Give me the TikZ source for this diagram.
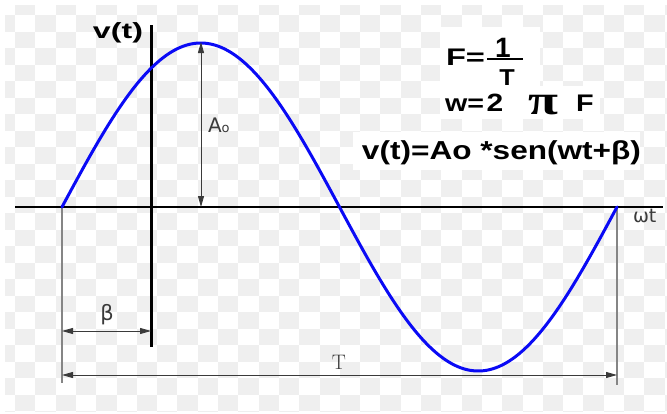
\documentclass[tikz,border=0pt]{standalone}
\usepackage{fontspec}
\usepackage{graphicx}
\usetikzlibrary{arrows.meta}
\newfontfamily\arialf{Liberation Sans}
\newfontfamily\dejaf{DejaVu Sans}
\newfontfamily\timesf{Liberation Serif}
\definecolor{checker}{HTML}{EFEFEF}
\definecolor{sinblue}{HTML}{0A0AF5}
\definecolor{dimgray}{HTML}{3A3A3A}
\definecolor{guidegray}{HTML}{858585}
\newcommand\fitw[2]{\resizebox{#1pt}{\height}{#2}}
\newcommand\sx[2]{\scalebox{#1}[1]{#2}}
\tikzset{
  axisline/.style={line width=2.6pt, black},
  wave/.style={line width=3pt, sinblue, line cap=round},
  guide/.style={line width=1.4pt, guidegray},
  dimarrow/.style={line width=0.9pt, dimgray,
    {Triangle[length=11pt,width=6pt]}-{Triangle[length=11pt,width=6pt]}},
  lbl/.style={inner sep=0pt, outer sep=0pt},
  whitebox/.style={fill=white, draw=none},
}
\begin{document}
\begin{tikzpicture}[x=1pt,y=-1pt]
\useasboundingbox (0,0) rectangle (667,413);
\fill[white] (0,0) rectangle (667,413);
% checkerboard background
\begin{scope}
\clip (5,5) rectangle (667,411);
\foreach \i in {-1,...,32}{
  \foreach \j in {-1,...,24}{
    \pgfmathtruncatemacro{\odd}{mod(\i+\j+100,2)}
    \ifnum\odd=1
      \fill[checker] ({15+20.3*\i},{15+16.52*\j}) rectangle ++(20.3,16.52);
    \fi
  }
}
\end{scope}
% white boxes behind the formulas
\fill[whitebox] (440,27) rectangle (540,86);
\fill[whitebox] (440,86) rectangle (600,119);
\fill[whitebox] (353,132) rectangle (640,170);

% coordinates
\coordinate (xl) at (15,207);
\coordinate (xr) at (663,207);
\coordinate (yt) at (151,25);
\coordinate (yb) at (151,347);
\coordinate (z0) at (62,207);
\coordinate (z1) at (617,207);
\coordinate (g0) at (62,383);
\coordinate (g1) at (617,385);
\coordinate (pk) at (201,42);
\coordinate (pkb) at (201,207);
\coordinate (b0) at (62,331);
\coordinate (b1) at (151,331);
\coordinate (t0) at (62,375);
\coordinate (t1) at (617,375);
\coordinate (bar0) at (487,59);
\coordinate (bar1) at (523,59);

% guides
\draw[guide] (z0) -- (g0);
\draw[guide] (z1) -- (g1);
% axes
\draw[axisline] (xl) -- (xr);
\draw[line width=3pt] (yt) -- (yb);
% wave
\draw[wave] plot[domain=0:555, samples=300] ({62+\x}, {207-164*sin(0.6486486*\x)});
% dimension arrows
\draw[dimarrow] (pk) -- (pkb);
\draw[dimarrow] (b0) -- (b1);
\draw[dimarrow] (t0) -- (t1);
% fraction bar
\draw[line width=2.5pt] (bar0) -- (bar1);

% labels
\node[lbl, anchor=base] (vt) at (118,38) {\arialf\bfseries\fontsize{22}{22}\selectfont\fitw{50}{v(t)}};
\node[lbl, anchor=base west] (Feq) at (446,65) {\arialf\bfseries\fontsize{24}{24}\selectfont\fitw{39}{F=}};
\node[lbl, anchor=base] (one) at (503,57) {\arialf\bfseries\fontsize{28}{28}\selectfont 1};
\node[lbl, anchor=base] (den) at (507,85) {\arialf\bfseries\fontsize{23}{23}\selectfont\sx{1.1}{T}};
\node[lbl, anchor=base west] (w2) at (445,111) {\arialf\bfseries\fontsize{24}{24}\selectfont\fitw{39}{w=}};
\node[lbl, anchor=base] (two) at (495,111) {\arialf\bfseries\fontsize{25}{25}\selectfont\sx{1.2}{2}};
\node[lbl, anchor=base] (pi) at (543,114) {\timesf\bfseries\fontsize{42}{42}\selectfont\sx{1.3}{π}};
\node[lbl, anchor=base] (F2) at (585,111) {\arialf\bfseries\fontsize{24}{24}\selectfont\sx{1.2}{F}};
\node[lbl, anchor=base] (eq) at (501.5,159) {\arialf\bfseries\fontsize{26}{26}\selectfont\fitw{279}{v(t)=Ao *sen(wt+β)}};
\node[lbl, anchor=base west] (Ao) at (208,132) {\dejaf\color{dimgray}\fontsize{20}{20}\selectfont A{\fontsize{13}{13}\selectfont o}};
\node[lbl, anchor=base] (beta) at (107,320) {\dejaf\color{dimgray}\fontsize{21}{21}\selectfont β};
\node[lbl, anchor=base] (Tl) at (339,369) {\color{dimgray}\fontsize{21}{21}\selectfont T};
\node[lbl, anchor=base west] (wt) at (633,222) {\dejaf\color{dimgray}\fontsize{19}{19}\selectfont ωt};
\end{tikzpicture}
\end{document}
